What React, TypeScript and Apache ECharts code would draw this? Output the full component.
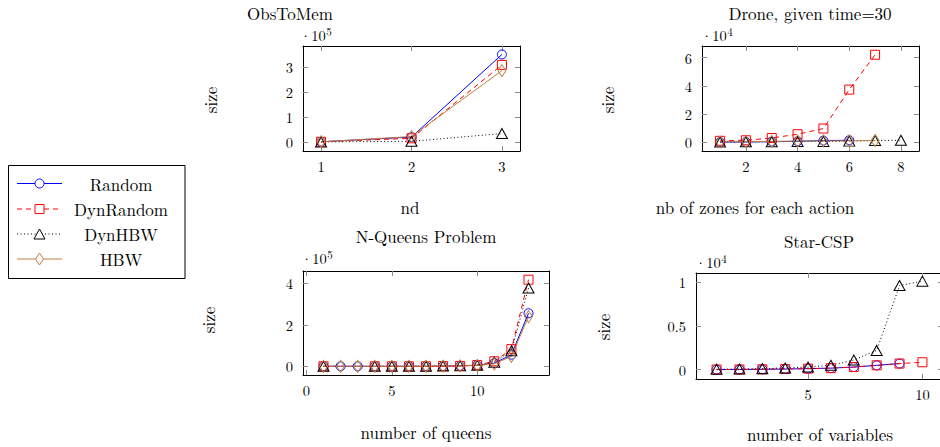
import React, { useEffect, useRef } from 'react';
import * as echarts from 'echarts';

// ---------- data ----------
const seriesNames = ['Random', 'DynRandom', 'DynHBW', 'HBW'];

// ObsToMem (size in units of 10^5)
const obsX = [1, 2, 3];
const obsRandom = [0.01, 0.2, 3.52];
const obsDynRandom = [0.01, 0.15, 3.1];
const obsDynHBW = [0.005, 0.03, 0.34];
const obsHBW = [0.01, 0.22, 2.87];
const obsXTicks = [1, 2, 3];
const obsYTicks = [0, 1, 2, 3];

// Drone, given time=30 (size in units of 10^4)
const droneRandomX = [1, 2, 3, 4, 5, 6];
const droneRandom = [0.01, 0.02, 0.04, 0.07, 0.12, 0.14];
const droneDynRandomX = [1, 2, 3, 4, 5, 6, 7];
const droneDynRandom = [0.1, 0.14, 0.3, 0.57, 0.97, 3.73, 6.2];
const droneDynHBWX = [1, 2, 3, 4, 5, 6, 7, 8];
const droneDynHBW = [0.02, 0.03, 0.04, 0.05, 0.06, 0.08, 0.12, 0.14];
const droneHBWX = [1, 2, 3, 4, 5, 6, 7];
const droneHBW = [0.03, 0.04, 0.06, 0.08, 0.09, 0.1, 0.12];
const droneXTicks = [2, 4, 6, 8];
const droneYTicks = [0, 2, 4, 6];

// N-Queens Problem (size in units of 10^5)
const queensX = [1, 2, 3, 4, 5, 6, 7, 8, 9, 10, 11, 12, 13];
const queensRandom = [0, 0, 0, 0, 0, 0, 0, 0.01, 0.02, 0.05, 0.15, 0.56, 2.56];
const queensHBW = [0, 0, 0, 0, 0, 0, 0, 0.01, 0.02, 0.04, 0.12, 0.48, 2.4];
const queensDynX = [1, 4, 5, 6, 7, 8, 9, 10, 11, 12, 13];
const queensDynRandom = [0, 0, 0, 0, 0, 0.01, 0.02, 0.06, 0.24, 0.83, 4.18];
const queensDynHBW = [0, 0, 0, 0, 0, 0.01, 0.02, 0.05, 0.2, 0.75, 3.78];
const queensXTicks = [0, 5, 10];
const queensYTicks = [0, 2, 4];

// Star-CSP (size in units of 10^4)
const starRandomX = [1, 2, 3, 4, 5, 6, 7, 8, 9];
const starRandom = [0.002, 0.003, 0.005, 0.008, 0.012, 0.018, 0.03, 0.05, 0.07];
const starX = [1, 2, 3, 4, 5, 6, 7, 8, 9, 10];
const starDynRandom = [0.002, 0.003, 0.005, 0.008, 0.012, 0.018, 0.03, 0.05, 0.07, 0.085];
const starDynHBW = [0.005, 0.008, 0.012, 0.02, 0.03, 0.05, 0.11, 0.22, 0.96, 1.01];
const starXTicks = [5, 10];
const starYTicks = [0, 0.5, 1];

// ---------- styles ----------
const FONT = "'Latin Modern Roman', 'DejaVu Serif', serif";
const FS = 17;      // titles, axis names, legend
const FS_TICK = 14.5;

const styleOf: Record<string, any> = {
  Random: { color: '#0000ff', symbol: 'circle', size: 9, dash: 'solid' },
  DynRandom: { color: '#ff0000', symbol: 'rect', size: 9, dash: [5, 4] },
  DynHBW: { color: '#000000', symbol: 'triangle', size: [11, 10], dash: [1, 2.5] },
  HBW: { color: '#bf8040', symbol: 'diamond', size: [8, 12], dash: 'solid' },
};

const zip = (xs: number[], ys: number[]) => xs.map((x, i) => [x, ys[i]]);

const panels = [
  {
    title: 'ObsToMem', tx: 290, ty: 12.5, exp: '5', ex: 300, ey: 34.5,
    xlabel: 'nd', xlx: 410, xly: 207, ylx: 210, yly: 100,
    grid: { left: 303, top: 46, width: 217, height: 105 },
    xMin: 0.8, xMax: 3.2, yMin: -0.36, yMax: 3.86, xTicks: obsXTicks, yTicks: obsYTicks,
    series: [
      ['Random', zip(obsX, obsRandom)],
      ['DynRandom', zip(obsX, obsDynRandom)],
      ['DynHBW', zip(obsX, obsDynHBW)],
      ['HBW', zip(obsX, obsHBW)],
    ],
  },
  {
    title: 'Drone, given time=30', tx: 810, ty: 12.5, exp: '4', ex: 701, ey: 34.5,
    xlabel: 'nb of zones for each action', xlx: 755, xly: 207, ylx: 607, yly: 100,
    grid: { left: 702, top: 46, width: 217, height: 105 },
    xMin: 0.3, xMax: 8.7, yMin: -0.62, yMax: 6.82, xTicks: droneXTicks, yTicks: droneYTicks,
    series: [
      ['Random', zip(droneRandomX, droneRandom)],
      ['DynRandom', zip(droneDynRandomX, droneDynRandom)],
      ['DynHBW', zip(droneDynHBWX, droneDynHBW)],
      ['HBW', zip(droneHBWX, droneHBW)],
    ],
  },
  {
    title: 'N-Queens Problem', tx: 426, ty: 235.5, exp: '5', ex: 301, ey: 258,
    xlabel: 'number of queens', xlx: 426, xly: 432, ylx: 208, yly: 320,
    grid: { left: 303, top: 271, width: 246, height: 104 },
    xMin: -0.2, xMax: 14.2, yMin: -0.42, yMax: 4.6, xTicks: queensXTicks, yTicks: queensYTicks,
    series: [
      ['Random', zip(queensX, queensRandom)],
      ['DynRandom', zip(queensDynX, queensDynRandom)],
      ['DynHBW', zip(queensDynX, queensDynHBW)],
      ['HBW', zip(queensX, queensHBW)],
    ],
  },
  {
    title: 'Star-CSP', tx: 819, ty: 241, exp: '4', ex: 695, ey: 262,
    xlabel: 'number of variables', xlx: 820, xly: 434, ylx: 603, yly: 327,
    grid: { left: 696, top: 273, width: 247, height: 106 },
    xMin: 0.1, xMax: 10.9, yMin: -0.106, yMax: 1.103, xTicks: starXTicks, yTicks: starYTicks,
    series: [
      ['Random', zip(starRandomX, starRandom)],
      ['DynRandom', zip(starX, starDynRandom)],
      ['DynHBW', zip(starX, starDynHBW)],
    ],
  },
];

function buildOption() {
  const grid: any[] = [];
  const xAxis: any[] = [];
  const yAxis: any[] = [];
  const series: any[] = [];
  const graphic: any[] = [];
  const txt = { fontFamily: FONT, fontSize: FS, fill: '#000' };

  panels.forEach((p, i) => {
    grid.push({ ...p.grid, show: false, outerBoundsMode: 'none', containLabel: false });
    const line = { show: true, onZero: false, lineStyle: { color: '#000', width: 1 } };
    const mkTick = (vals: number[]) => ({
      show: true, inside: true, length: 5, customValues: vals,
      lineStyle: { color: '#8c8c8c', width: 1 },
    });
    ['bottom', 'top'].forEach((pos) => {
      xAxis.push({
        type: 'value', gridIndex: i, position: pos, min: p.xMin, max: p.xMax,
        axisLine: line, axisTick: mkTick(p.xTicks), splitLine: { show: false },
        axisLabel: pos === 'bottom'
          ? { show: true, customValues: p.xTicks, color: '#000', fontFamily: FONT, fontSize: FS_TICK, margin: 7 }
          : { show: false },
      });
    });
    ['left', 'right'].forEach((pos) => {
      yAxis.push({
        type: 'value', gridIndex: i, position: pos, min: p.yMin, max: p.yMax,
        axisLine: line, axisTick: mkTick(p.yTicks), splitLine: { show: false },
        axisLabel: pos === 'left'
          ? { show: true, customValues: p.yTicks, color: '#000', fontFamily: FONT, fontSize: FS_TICK, margin: 10 }
          : { show: false },
      });
    });
    p.series.forEach(([name, data]: any) => {
      const s = styleOf[name];
      series.push({
        type: 'line', name, xAxisIndex: i * 2, yAxisIndex: i * 2, data,
        symbol: s.symbol, symbolSize: s.size, showSymbol: true,
        lineStyle: { color: s.color, width: 1, type: s.dash },
        itemStyle: { color: 'rgba(255,255,255,0)', borderColor: s.color, borderWidth: 1 },
        emphasis: { disabled: true },
      });
    });
    graphic.push({ type: 'text', x: p.tx, y: p.ty, style: { ...txt, text: p.title, align: 'center', verticalAlign: 'middle' } });
    graphic.push({
      type: 'text', x: p.ex, y: p.ey,
      style: {
        ...txt, fontSize: FS_TICK, lineHeight: 18, text: '·10{s|' + p.exp + '}', align: 'left', verticalAlign: 'middle',
        rich: { s: { fontFamily: FONT, fontSize: 11, fill: '#000', verticalAlign: 'top', lineHeight: 11, padding: [0, 0, 0, 0.5] } },
      },
    });
    graphic.push({ type: 'text', x: p.xlx, y: p.xly, style: { ...txt, text: p.xlabel, align: 'center', verticalAlign: 'middle' } });
    graphic.push({ type: 'text', x: p.ylx, y: p.yly, rotation: Math.PI / 2, style: { ...txt, text: 'size', align: 'center', verticalAlign: 'middle' } });
  });

  // legend box
  graphic.push({ type: 'rect', shape: { x: 8.5, y: 165.5, width: 176.5, height: 113 }, style: { fill: '#fff', stroke: '#000', lineWidth: 1 }, z: 1 });
  const ly = [183.5, 209, 234, 259];
  seriesNames.forEach((name, k) => {
    const s = styleOf[name];
    const y = ly[k];
    const cx = 39.5;
    graphic.push({
      type: 'line', shape: { x1: 17, y1: y, x2: 62, y2: y }, z: 2,
      style: { stroke: s.color, lineWidth: 1, lineDash: Array.isArray(s.dash) ? s.dash : null },
    });
    const mstyle = { fill: '#fff', stroke: s.color, lineWidth: 1 };
    if (s.symbol === 'circle') graphic.push({ type: 'circle', shape: { cx, cy: y, r: 4.5 }, style: mstyle, z: 3 });
    if (s.symbol === 'rect') graphic.push({ type: 'rect', shape: { x: cx - 4.5, y: y - 4.5, width: 9, height: 9 }, style: mstyle, z: 3 });
    if (s.symbol === 'triangle') graphic.push({ type: 'polygon', shape: { points: [[cx, y - 5], [cx + 5.5, y + 5], [cx - 5.5, y + 5]] }, style: mstyle, z: 3 });
    if (s.symbol === 'diamond') graphic.push({ type: 'polygon', shape: { points: [[cx, y - 6], [cx + 4, y], [cx, y + 6], [cx - 4, y]] }, style: mstyle, z: 3 });
    graphic.push({ type: 'text', x: 121, y, z: 3, style: { ...txt, text: name, align: 'center', verticalAlign: 'middle' } });
  });

  return { animation: false, backgroundColor: '#fff', textStyle: { fontFamily: FONT }, grid, xAxis, yAxis, series, graphic };
}

export default function App() {
  const ref = useRef<HTMLDivElement>(null);
  useEffect(() => {
    if (!ref.current) return;
    const chart = echarts.init(ref.current, null, { renderer: 'svg' });
    chart.setOption(buildOption() as any);
    return () => chart.dispose();
  }, []);
  return <div ref={ref} style={{ position: 'fixed', left: 0, top: 0, width: 940, height: 447 }} />;
}
